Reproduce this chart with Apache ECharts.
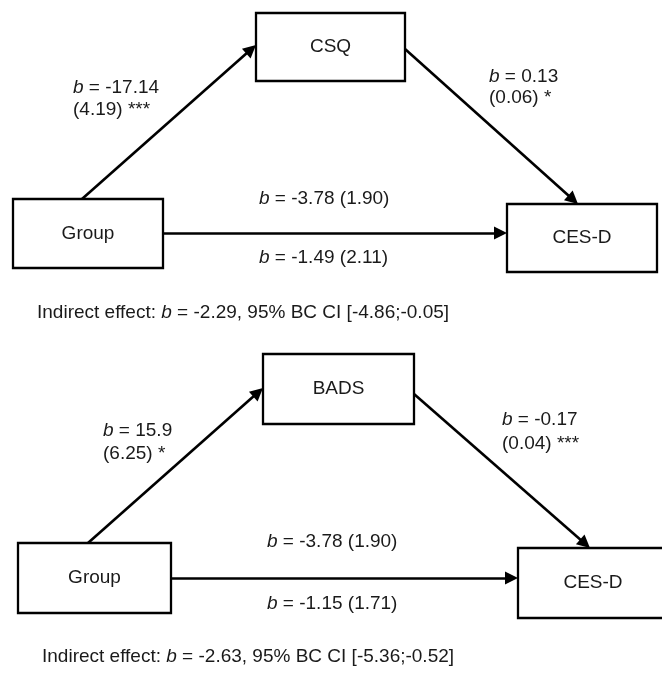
<!DOCTYPE html>
<html><head><meta charset="utf-8">
<script src="https://cdn.jsdelivr.net/npm/echarts@6/dist/echarts.min.js"></script>
<style>html,body{margin:0;padding:0;background:#fff}#c{width:662px;height:674px}</style>
</head><body><div id="c"></div>
<script>
// ---- data ----
const mediators = ['CSQ', 'BADS'];
const predictor = 'Group';
const outcome = 'CES-D';
const aCoef = ['-17.14', '15.9'];
const aSE = ['4.19', '6.25'];
const aSig = ['***', '*'];
const bCoef = ['0.13', '-0.17'];
const bSE = ['0.06', '0.04'];
const bSig = ['*', '***'];
const totalCoef = ['-3.78', '-3.78'];
const totalSE = ['1.90', '1.90'];
const directCoef = ['-1.49', '-1.15'];
const directSE = ['2.11', '1.71'];
const indirectCoef = ['-2.29', '-2.63'];
const ciLow = ['-4.86', '-5.36'];
const ciHigh = ['-0.05', '-0.52'];

// ---- layout (diagram coordinates, y downward) ----
const layout = [
  { med:[256,13,405,81], grp:[13,199,163,268], out:[507,204,657,272],
    aFrom:[82,199], aTo:[256,45], bFrom:[405,49], bTo:[578,204], cY:233,
    aLab:[73,88,110], bLab:[489,77,98], tot:[259,199], dir:[259,258], ind:[37,313] },
  { med:[263,354,414,424], grp:[18,543,171,613], out:[518,548,668,618],
    aFrom:[88,543], aTo:[263,388], bFrom:[414,394], bTo:[590,548], cY:578,
    aLab:[103,431,454], bLab:[502,420,444], tot:[267,542], dir:[267,604], ind:[42,657] }
];

const FONT = 'Liberation Sans, Arial, sans-serif';
const TXT = '#1a1a1a';
const FS = 19;
const HEAD_LEN = 13;

const boxData = [];
const boxNames = [];
layout.forEach((L, p) => {
  boxData.push(L.med); boxNames.push(mediators[p]);
  boxData.push(L.grp); boxNames.push(predictor);
  boxData.push(L.out); boxNames.push(outcome);
});

// pull the line end back so the centred arrow symbol's tip lands on the box edge
function arrow(from, to) {
  const dx = to[0] - from[0], dy = to[1] - from[1];
  const len = Math.sqrt(dx * dx + dy * dy);
  const k = (HEAD_LEN / 2) / len;
  return { coords: [from, [to[0] - dx * k, to[1] - dy * k]] };
}
const arrowData = [];
layout.forEach((L) => {
  arrowData.push(arrow(L.aFrom, L.aTo));
  arrowData.push(arrow(L.bFrom, L.bTo));
  arrowData.push(arrow([L.grp[2], L.cY], [L.out[0], L.cY]));
});

function labelText(p, k) {
  switch (k) {
    case 0: return '{i|b} = ' + aCoef[p];
    case 1: return '(' + aSE[p] + ') ' + aSig[p];
    case 2: return '{i|b} = ' + bCoef[p];
    case 3: return '(' + bSE[p] + ') ' + bSig[p];
    case 4: return '{i|b} = ' + totalCoef[p] + ' (' + totalSE[p] + ')';
    case 5: return '{i|b} = ' + directCoef[p] + ' (' + directSE[p] + ')';
    case 6: return 'Indirect effect: {i|b} = ' + indirectCoef[p] + ', 95% BC CI [' + ciLow[p] + ';' + ciHigh[p] + ']';
  }
}
const labelData = [];
layout.forEach((L, p) => {
  labelData.push([L.aLab[0], L.aLab[1], p, 0]);
  labelData.push([L.aLab[0], L.aLab[2], p, 1]);
  labelData.push([L.bLab[0], L.bLab[1], p, 2]);
  labelData.push([L.bLab[0], L.bLab[2], p, 3]);
  labelData.push([L.tot[0], L.tot[1], p, 4]);
  labelData.push([L.dir[0], L.dir[1], p, 5]);
  labelData.push([L.ind[0], L.ind[1], p, 6]);
});

const chart = echarts.init(document.getElementById('c'), null, { renderer: 'canvas' });
chart.setOption({
  animation: false,
  backgroundColor: '#fff',
  grid: { left: 0, right: 0, top: 0, bottom: 0 },
  xAxis: { type: 'value', min: 0, max: 662, show: false },
  yAxis: { type: 'value', min: 0, max: 674, inverse: true, show: false },
  series: [
    {
      type: 'custom', coordinateSystem: 'cartesian2d', z: 2,
      encode: { x: [0, 2], y: [1, 3] },
      data: boxData,
      renderItem: function (params, api) {
        const p1 = api.coord([api.value(0), api.value(1)]);
        const p2 = api.coord([api.value(2), api.value(3)]);
        return {
          type: 'group',
          children: [
            { type: 'rect', shape: { x: p1[0], y: p1[1], width: p2[0] - p1[0], height: p2[1] - p1[1] },
              style: { fill: '#fff', stroke: '#000', lineWidth: 2.3 } },
            { type: 'text', x: (p1[0] + p2[0]) / 2, y: (p1[1] + p2[1]) / 2,
              style: { text: boxNames[params.dataIndex], fill: TXT, fontSize: FS, fontFamily: FONT,
                       align: 'center', verticalAlign: 'middle' } }
          ]
        };
      }
    },
    {
      type: 'lines', coordinateSystem: 'cartesian2d',
      symbol: ['none', 'triangle'], symbolSize: [11, HEAD_LEN],
      lineStyle: { color: '#000', width: 2.6, opacity: 1 },
      itemStyle: { color: '#000' },
      data: arrowData, z: 3
    },
    {
      type: 'custom', coordinateSystem: 'cartesian2d', z: 4,
      encode: { x: 0, y: 1 },
      data: labelData,
      renderItem: function (params, api) {
        const pt = api.coord([api.value(0), api.value(1)]);
        return {
          type: 'text', x: pt[0], y: pt[1],
          style: {
            text: labelText(api.value(2), api.value(3)),
            fill: TXT, fontSize: FS, fontFamily: FONT, align: 'left', verticalAlign: 'middle',
            rich: { i: { fontStyle: 'italic', fill: TXT, fontSize: FS, fontFamily: FONT } }
          }
        };
      }
    }
  ]
});
</script>
</body></html>
